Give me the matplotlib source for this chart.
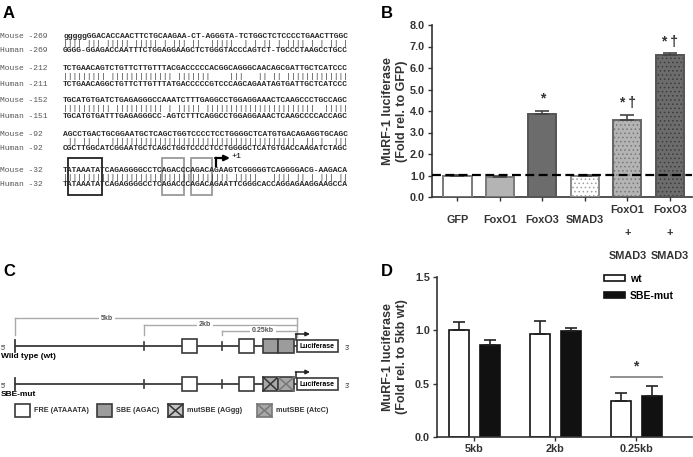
import matplotlib
matplotlib.use("Agg")
import matplotlib.pyplot as plt
from matplotlib.patches import Rectangle
import numpy as np

# ---- panel A: promoter alignment ----
mouse_labels = ["Mouse -269", "Mouse -212", "Mouse -152", "Mouse -92", "Mouse -32"]
human_labels = ["Human -269", "Human -211", "Human -151", "Human -92", "Human -32"]
mouse_seq = [
    "gggggGGACACCAACTTCTGCAAGAA-CT-AGGGTA-TCTGGCTCTCCCCTGAACTTGGC",
    "TCTGAACAGTCTGTTCTTGTTTACGACCCCCACGGCAGGGCAACAGCGATTGCTCATCCC",
    "TGCATGTGATCTGAGAGGGCCAAATCTTTGAGGCCTGGAGGAAACTCAAGCCCTGCCAGC",
    "AGCCTGACTGCGGAATGCTCAGCTGGTCCCCTCCTGGGGCTCATGTGACAGAGGTGCAGC",
    "TATAAATATCAGAGGGGCCTCAGACCCAGACAGAAGTCGGGGGTCAGGGGACG-AAGACA",
]
human_seq = [
    "GGGG-GGAGACCAATTTCTGGAGGAAGCTCTGGGTACCCAGTCT-TGCCCTAAGCCTGCC",
    "TCTGAACAGGCTGTTCTTGTTTATGACCCCCGTCCCAGCAGAATAGTGATTGCTCATCCC",
    "TGCATGTGATTTGAGAGGGCC-AGTCTTTCAGGCCTGGAGGAAACTCAAGCCCCACCAGC",
    "CGCTTGGCATCGGAATGCTCAGCTGGTCCCCTCCTGGGGCTCATGTGACCAAGATCTAGC",
    "TATAAATATCAGAGGGGCCTCAGACCCAGACAGAATTCGGGCACCAGGAGAAGGAAGCCA",
]

# ---- panel B ----
b_groups = ["GFP", "FoxO1", "FoxO3", "SMAD3", "FoxO1\n+\nSMAD3", "FoxO3\n+\nSMAD3"]
b_means = [1.00, 0.93, 3.87, 1.00, 3.56, 6.62]
b_errs = [0.02, 0.03, 0.15, 0.02, 0.24, 0.06]
b_sig = ["", "", "*", "", "* \u2020", "* \u2020"]

# ---- panel D ----
d_groups = ["5kb", "2kb", "0.25kb"]
d_wt = [1.00, 0.97, 0.34]
d_wt_err = [0.08, 0.12, 0.07]
d_mut = [0.86, 0.99, 0.38]
d_mut_err = [0.045, 0.035, 0.095]

plt.rcParams['font.family'] = ['Liberation Sans', 'DejaVu Sans']
plt.rcParams['hatch.linewidth'] = 0.6

W, H = 693, 457
fig = plt.figure(figsize=(W / 100, H / 100), dpi=100)

# full-figure overlay in pixel coordinates for panels A and C
ov = fig.add_axes([0, 0, 1, 1])
ov.set_xlim(0, W)
ov.set_ylim(H, 0)
ov.axis('off')
ov.set_zorder(0)

for lbl, x, y in [("A", 3, 14), ("B", 381, 13), ("C", 3, 272), ("D", 381, 272)]:
    ov.text(x, y, lbl, fontsize=12, weight='bold', va='center', ha='left')

# alignment text
cw = 4.78
seq_x = 63
fs_seq = cw / 0.6 * 72 / 100
mouse_y = [36, 69, 101, 134, 170]
for i in range(len(mouse_seq)):
    my = mouse_y[i]
    hy = my + 15
    match = ''.join('|' if a.upper() == b.upper() and a != '-' else ' '
                    for a, b in zip(mouse_seq[i], human_seq[i]))
    ov.text(0, my, mouse_labels[i], family='Liberation Mono', fontsize=fs_seq,
            color='#555555', va='center')
    ov.text(0, hy, human_labels[i], family='Liberation Mono', fontsize=fs_seq,
            color='#555555', va='center')
    ov.text(seq_x, my, mouse_seq[i], family='Liberation Mono', weight='bold',
            fontsize=fs_seq, color='#2a2a2a', va='center')
    ov.text(seq_x, (my + hy) / 2, match, family='Liberation Mono',
            fontsize=fs_seq, color='#2a2a2a', va='center')
    ov.text(seq_x, hy, human_seq[i], family='Liberation Mono', weight='bold',
            fontsize=fs_seq, color='#2a2a2a', va='center')

# TATA box and SBE boxes
ov.add_patch(Rectangle((seq_x + 1.0 * cw, 158), 7.2 * cw, 37, fill=False,
                       ec='#222222', lw=1.3))
for start in (21, 27):
    ov.add_patch(Rectangle((seq_x + start * cw - 1, 158), 4 * cw + 2, 37,
                           fill=False, ec='#9a9a9a', lw=1.3))
ax_tss = seq_x + 32 * cw
ov.plot([ax_tss, ax_tss], [166, 158], color='k', lw=1.6)
ov.annotate('', xy=(ax_tss + 14, 158), xytext=(ax_tss - 0.8, 158),
            arrowprops=dict(arrowstyle='-|>', color='k', lw=1.6,
                            mutation_scale=8, shrinkA=0, shrinkB=0))
ov.text(ax_tss + 16, 156, "+1", family='Liberation Mono', fontsize=6, va='center')

# ---- panel C: reporter constructs ----
dark = '#3a3a3a'
gray_txt = '#555555'
# brackets
for x0, y0, lbl, lx in [(15, 318, "5kb", 107), (144, 325, "2kb", 205),
                        (222, 331, "0.25kb", 263)]:
    ov.plot([x0, 297], [y0, y0], color='#aaaaaa', lw=1)
    ov.plot([x0, x0], [y0, 335], color='#aaaaaa', lw=1)
    ov.text(lx, y0, lbl, fontsize=5, weight='bold', color=gray_txt,
            ha='center', va='center',
            bbox=dict(fc='white', ec='none', pad=1.2))
ov.plot([297, 297], [318, 337], color='#aaaaaa', lw=1)


def box(x, y, w, h, fc, ec=dark, cross=None, lw=1.2):
    ov.add_patch(Rectangle((x, y), w, h, fc=fc, ec=ec, lw=lw, zorder=3))
    if cross:
        ov.plot([x, x + w], [y, y + h], color=cross, lw=1.1, zorder=4)
        ov.plot([x, x + w], [y + h, y], color=cross, lw=1.1, zorder=4)


rows = [("Wild type (wt)", 346, False), ("SBE-mut", 384, True)]
for name, yc, mut in rows:
    ov.plot([15, 297], [yc, yc], color=dark, lw=1.3, zorder=1)
    ov.plot([15, 15], [yc - 6, yc + 6], color=dark, lw=1.3)
    for tx in (144, 222):
        ov.plot([tx, tx], [yc - 4, yc + 4], color=dark, lw=1.2)
    for bx in (182, 239):
        box(bx, yc - 7, 15, 14, 'white')
    if mut:
        box(263, yc - 7, 15, 14, '#a8a8a8', cross='#333333')
        box(278, yc - 7, 16, 14, '#a8a8a8', cross='#777777')
    else:
        box(263, yc - 7, 15, 14, '#9c9c9c')
        box(278, yc - 7, 16, 14, '#9c9c9c')
    box(297, yc - 6, 41, 12, 'white')
    ov.text(317.5, yc, "Luciferase", fontsize=5, weight='bold', ha='center',
            va='center', zorder=5)
    ov.plot([296, 296], [yc - 6, yc - 12], color='#222222', lw=1.1, zorder=5)
    ov.annotate('', xy=(310, yc - 12), xytext=(295.5, yc - 12),
                arrowprops=dict(arrowstyle='-|>', color='#222222', lw=1.1,
                                mutation_scale=6, shrinkA=0, shrinkB=0))
    ov.text(1, yc + 2, "5'", fontsize=5, va='center', color='#333333')
    ov.text(345, yc + 2, "3'", fontsize=5, va='center', color='#333333')
    ov.text(1, yc + 11, name, fontsize=6, weight='bold', va='center')

# construct legend
leg_y = 404
items = [(15, "FRE (ATAAATA)", 'white', None, dark),
         (97, "SBE (AGAC)", '#9c9c9c', None, dark),
         (168, "mutSBE (AGgg)", '#c4c4c4', '#333333', '#333333'),
         (257, "mutSBE (AtcC)", '#a8a8a8', '#777777', '#777777')]
for bx, lbl, fc, cr, ec in items:
    box(bx, leg_y, 15, 13, fc, ec=ec, cross=cr)
    ov.text(bx + 19, leg_y + 6.5, lbl, fontsize=5.2, weight='bold',
            va='center', color='#333333')

# ---- panel B axes ----
axB = fig.add_axes([432 / W, (H - 197) / H, 260 / W, 172 / H])
axB.set_zorder(1)
xb = np.arange(len(b_groups))
bw = 0.66
b_fill = ['white', '#b4b4b4', '#6c6c6c', 'white', '#b4b4b4', '#6c6c6c']
b_hatch = [None, None, None, '....', '....', '....']
b_hatchc = ['white', '#b4b4b4', '#6c6c6c', '#a0a0a0', '#777777', '#3c3c3c']
b_edge = ['#7a7a7a', '#7a7a7a', '#555555', '#8a8a8a', '#666666', '#555555']
for i in range(len(b_groups)):
    axB.bar(xb[i], b_means[i], bw, color=b_fill[i], edgecolor=b_hatchc[i],
            hatch=b_hatch[i], lw=0, zorder=2)
    axB.bar(xb[i], b_means[i], bw, facecolor='none', edgecolor=b_edge[i],
            lw=1.4, zorder=3)
axB.errorbar(xb, b_means, yerr=[np.zeros(len(b_errs)), b_errs], fmt='none',
             ecolor='#444444', elinewidth=1.2, capsize=5, capthick=1.2, zorder=4)
axB.axhline(1.04, color='k', ls=(0, (4, 2)), lw=1.6, zorder=5)
for i, s in enumerate(b_sig):
    if s:
        axB.text(xb[i], b_means[i] + b_errs[i] + 0.55, s, ha='center',
                 va='center', fontsize=10, weight='bold', color='#333333')
axB.set_xlim(-0.6, 5.52)
axB.set_ylim(0, 8)
axB.set_yticks(np.arange(0, 9, 1))
axB.set_yticklabels([f"{v:.1f}" for v in np.arange(0, 9, 1)])
axB.set_xticks(xb)
axB.set_xticklabels([])
for i, g in enumerate(b_groups):
    off = 36 if '\n' in g else 23
    axB.annotate(g, xy=(xb[i], 0), xycoords=('data', 'axes fraction'),
                 xytext=(0, -off), textcoords='offset pixels', ha='center',
                 va='center', fontsize=7.8, weight='bold', color='#333333',
                 linespacing=2.6)
axB.set_ylabel("MuRF-1 luciferase\n(Fold rel. to GFP)", fontsize=9,
               weight='bold', color='#333333')
axB.yaxis.set_label_coords(-(432 - 408) / 260, 0.5)

# ---- panel D axes ----
axD = fig.add_axes([437 / W, (H - 437) / H, 255 / W, 160 / H])
axD.set_zorder(1)
xd = np.arange(len(d_groups))
dw = 0.247
doff = 0.19
axD.bar(xd - doff, d_wt, dw, color='white', edgecolor='#111111', lw=1.2,
        label='wt', zorder=2)
axD.bar(xd + doff, d_mut, dw, color='#111111', edgecolor='#111111', lw=1.2,
        label='SBE-mut', zorder=2)
axD.errorbar(xd - doff, d_wt, yerr=[np.zeros(3), d_wt_err], fmt='none',
             ecolor='#222222', elinewidth=1.2, capsize=4, capthick=1.2, zorder=3)
axD.errorbar(xd + doff, d_mut, yerr=[np.zeros(3), d_mut_err], fmt='none',
             ecolor='#222222', elinewidth=1.2, capsize=4, capthick=1.2, zorder=3)
sig_y = max(d_wt[2] + d_wt_err[2], d_mut[2] + d_mut_err[2]) + 0.09
axD.plot([xd[2] - doff - dw / 2, xd[2] + doff + dw / 2], [sig_y, sig_y],
         color='#888888', lw=1.3)
axD.text(xd[2], sig_y + 0.03, "*", ha='center', va='bottom', fontsize=10,
         weight='bold', color='#333333')
axD.set_xlim(-0.46, 2.69)
axD.set_ylim(0, 1.5)
axD.set_yticks([0, 0.5, 1.0, 1.5])
axD.set_yticklabels(["0.0", "0.5", "1.0", "1.5"])
axD.set_xticks(xd)
axD.set_xticklabels(d_groups)
axD.set_ylabel("MuRF-1 luciferase\n(Fold rel. to 5kb wt)", fontsize=9,
               weight='bold', color='#333333')
axD.yaxis.set_label_coords(-(437 - 408) / 255, 0.5)
axD.legend(loc='upper left', bbox_to_anchor=(604 / W, (H - 274) / H),
           bbox_transform=fig.transFigure, frameon=False,
           handlelength=2.0, handleheight=0.5, labelspacing=0.65,
           handletextpad=0.5, borderpad=0, borderaxespad=0,
           prop={'weight': 'bold', 'size': 7.5})

for ax in (axB, axD):
    ax.patch.set_alpha(0)
    for side in ('top', 'right'):
        ax.spines[side].set_visible(False)
    for side in ('left', 'bottom'):
        ax.spines[side].set_color('#333333')
        ax.spines[side].set_linewidth(1.2)
    ax.tick_params(direction='out', length=3, width=1, color='#333333',
                   labelsize=7.8, labelcolor='#333333', pad=2)
    for t in ax.get_yticklabels() + ax.get_xticklabels():
        t.set_fontweight('bold')

fig.savefig("out.png", dpi=100)
